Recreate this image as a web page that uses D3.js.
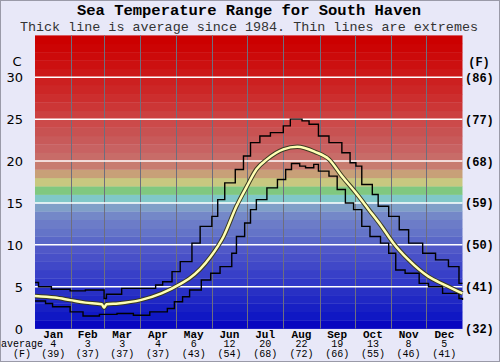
<!DOCTYPE html>
<html>
<head>
<meta charset="utf-8">
<script src="https://cdn.jsdelivr.net/npm/d3@7/dist/d3.min.js"></script>
<style>
  body { margin: 0; background: #e8e8f8; }
  svg { display: block; }
</style>
</head>
<body>
<div id="chart"></div>
<script>
const monthNames = ['Jan', 'Feb', 'Mar', 'Apr', 'May', 'Jun', 'Jul', 'Aug', 'Sep', 'Oct', 'Nov', 'Dec']
const monthDays = [31, 28, 31, 30, 31, 30, 31, 31, 30, 31, 30, 31]
const monthAvgC = [4, 3, 3, 4, 6, 12, 20, 22, 19, 13, 8, 5]
const monthAvgF = [39, 37, 37, 37, 43, 54, 68, 72, 66, 55, 46, 41]

const cTicks = [0, 5, 10, 15, 20, 25, 30]
const fTicks = [32, 41, 50, 59, 68, 77, 86]

// average since 1984 (day of year, deg C)
const avgDays = [0, 17, 30, 43, 57, 59, 61, 71, 90, 108, 125, 132, 150, 161, 172, 181, 189, 198, 212, 224, 239, 251, 262, 274, 285, 296, 306, 319, 336, 350, 365]
const avgTemp = [3.9, 3.7, 3.4, 3.1, 2.9, 2.5, 2.9, 3.0, 3.4, 4.2, 5.4, 6.0, 8.6, 11.0, 14.6, 17.0, 19.0, 20.2, 21.4, 21.7, 21.1, 20.2, 18.2, 16.2, 14.2, 12.2, 10.2, 8.2, 6.2, 5.2, 4.2]

// extremes
const maxDays = [0, 3, 14, 30, 43, 57, 59, 61, 74, 90, 103, 109, 117, 124, 134, 141, 151, 156, 162, 171, 178, 184, 192, 201, 212, 218, 228, 234, 242, 251, 262, 269, 274, 279, 288, 293, 302, 311, 319, 331, 342, 353, 362, 365]
const maxTemp = [5.5, 5.0, 4.7, 4.5, 4.6, 4.6, 3.6, 4.1, 4.8, 4.8, 5.2, 5.6, 6.8, 8.0, 10.2, 12.2, 13.4, 15.4, 17.4, 19.0, 20.6, 22.2, 23.0, 23.4, 24.2, 25.0, 24.8, 24.4, 23.0, 22.2, 21.0, 19.8, 19.4, 17.2, 16.0, 14.6, 13.4, 11.8, 10.2, 9.0, 8.2, 7.4, 5.4, 5.4]

const minDays = [0, 9, 15, 30, 41, 55, 70, 84, 98, 113, 119, 126, 132, 142, 150, 158, 168, 172, 179, 184, 189, 198, 207, 214, 219, 226, 231, 238, 242, 251, 258, 265, 272, 279, 286, 295, 302, 308, 316, 328, 336, 348, 362, 365]
const minTemp = [3.3, 3.0, 2.6, 2.0, 1.5, 1.7, 1.8, 1.6, 2.0, 2.4, 3.2, 3.8, 4.6, 5.8, 6.6, 7.4, 9.0, 11.0, 12.6, 14.2, 15.4, 16.8, 17.8, 19.0, 19.7, 19.4, 19.2, 19.6, 18.8, 18.2, 16.6, 15.0, 14.2, 12.2, 11.0, 10.2, 9.0, 7.0, 6.6, 5.4, 5.0, 4.2, 3.6, 3.4]

// one colour per degree band, 0..35 C
const bandColors = ['#0808c0', '#1018c4', '#1820c4', '#2028c4', '#2830c4', '#3038c8', '#3840c8', '#4048c8', '#4850c8', '#5058c8',
                    '#5a68c8', '#6474c8', '#6c7cc8', '#7488c8', '#80a0c8', '#80c8c8', '#80c880', '#c8c880', '#c8a078', '#c87c70',
                    '#c86c68', '#c86262', '#c85a5a', '#c85252', '#cc4a4a', '#cc4040', '#cc3636', '#cc2e2e', '#cc2626', '#cc2020',
                    '#cc1818', '#cc1010', '#cc0a0a', '#cc0404', '#cc0000']

const W = 500, H = 362
const plot = { left: 35, right: 462.5, top: 35.4, bottom: 328.6 }

const svg = d3.select('#chart').append('svg')
  .attr('width', W)
  .attr('height', H)

svg.append('rect')
  .attr('x', 0.5).attr('y', 0.5)
  .attr('width', W - 1).attr('height', H - 1)
  .attr('fill', '#e8e8f8')
  .attr('stroke', '#9a9aa8')

const x = d3.scaleLinear().domain([0, 365]).range([plot.left, plot.right])
const y = d3.scaleLinear().domain([0, 35]).range([plot.bottom, plot.top])

// background bands
svg.append('g').selectAll('rect')
  .data(bandColors).enter()
  .append('rect')
  .attr('x', plot.left)
  .attr('width', plot.right - plot.left)
  .attr('y', (d, i) => y(i + 1))
  .attr('height', (d, i) => y(i) - y(i + 1) + 0.3)
  .attr('fill', d => d)

// month boundaries
const monthStart = monthDays.map((d, i) => d3.sum(monthDays.slice(0, i)))
svg.append('g').selectAll('line')
  .data(monthStart.slice(1)).enter()
  .append('line')
  .attr('x1', d => Math.round(x(d)) + 0.5)
  .attr('x2', d => Math.round(x(d)) + 0.5)
  .attr('y1', plot.top)
  .attr('y2', plot.bottom)
  .attr('stroke', '#6e6e7e')
  .attr('stroke-width', 1)

// white grid lines
svg.append('g').selectAll('line')
  .data(cTicks.slice(1)).enter()
  .append('line')
  .attr('x1', plot.left)
  .attr('x2', plot.right)
  .attr('y1', d => y(d))
  .attr('y2', d => y(d))
  .attr('stroke', '#ffffff')
  .attr('stroke-width', 1.5)

const series = (days, temps) => days.map((d, i) => [d, temps[i]])

const stepLine = d3.line()
  .x(d => x(d[0]))
  .y(d => y(d[1]))
  .curve(d3.curveStepAfter)

const smoothLine = d3.line()
  .x(d => x(d[0]))
  .y(d => y(d[1]))
  .curve(d3.curveMonotoneX)

svg.append('path')
  .datum(series(maxDays, maxTemp))
  .attr('d', stepLine)
  .attr('fill', 'none')
  .attr('stroke', '#000')
  .attr('stroke-width', 1.4)

svg.append('path')
  .datum(series(minDays, minTemp))
  .attr('d', stepLine)
  .attr('fill', 'none')
  .attr('stroke', '#000')
  .attr('stroke-width', 1.4)

const avg = series(avgDays, avgTemp)
svg.append('path')
  .datum(avg)
  .attr('d', smoothLine)
  .attr('fill', 'none')
  .attr('stroke', '#3a3a20')
  .attr('stroke-width', 4.5)

svg.append('path')
  .datum(avg)
  .attr('d', smoothLine)
  .attr('fill', 'none')
  .attr('stroke', '#ffffb4')
  .attr('stroke-width', 2.5)

// titles
svg.append('text')
  .attr('x', 249).attr('y', 15)
  .attr('text-anchor', 'middle')
  .style('font', 'bold 15.5px "Liberation Mono", monospace')
  .attr('fill', '#000')
  .text('Sea Temperature Range for South Haven')

svg.append('text')
  .attr('x', 249).attr('y', 31)
  .attr('text-anchor', 'middle')
  .style('font', '13.4px "Liberation Mono", monospace')
  .attr('fill', '#333')
  .text('Thick line is average since 1984. Thin lines are extremes')

// left axis (C)
const leftAxis = svg.append('g')
leftAxis.selectAll('text')
  .data(cTicks).enter()
  .append('text')
  .attr('x', 23)
  .attr('y', d => y(d) + 5)
  .attr('text-anchor', 'end')
  .style('font', '13px "DejaVu Sans", sans-serif')
  .attr('fill', '#000')
  .text(d => d)
svg.append('text')
  .attr('x', 17).attr('y', 66)
  .attr('text-anchor', 'middle')
  .style('font', '13px "DejaVu Sans", sans-serif')
  .text('C')

// right axis (F)
svg.append('g').selectAll('text')
  .data(fTicks).enter()
  .append('text')
  .attr('x', 465)
  .attr('y', (d, i) => y(cTicks[i]) + 4.5)
  .style('font', 'bold 12px "Liberation Mono", monospace')
  .text(d => '(' + d + ')')
svg.append('text')
  .attr('x', 479).attr('y', 66)
  .attr('text-anchor', 'middle')
  .style('font', 'bold 12px "Liberation Mono", monospace')
  .text('(F)')

// month labels and averages
const monthMid = monthStart.map((d, i) => d + monthDays[i] / 2)
const bottom = svg.append('g')
bottom.selectAll('.month')
  .data(monthNames).enter()
  .append('text').classed('month', true)
  .attr('x', (d, i) => x(monthMid[i]))
  .attr('y', 337.5)
  .attr('text-anchor', 'middle')
  .style('font', 'bold 11px "Liberation Mono", monospace')
  .text(d => d)
bottom.selectAll('.avgc')
  .data(monthAvgC).enter()
  .append('text').classed('avgc', true)
  .attr('x', (d, i) => x(monthMid[i]))
  .attr('y', 347)
  .attr('text-anchor', 'middle')
  .style('font', '10px "Liberation Mono", monospace')
  .text(d => d)
bottom.selectAll('.avgf')
  .data(monthAvgF).enter()
  .append('text').classed('avgf', true)
  .attr('x', (d, i) => x(monthMid[i]))
  .attr('y', 356.5)
  .attr('text-anchor', 'middle')
  .style('font', '10px "Liberation Mono", monospace')
  .text(d => '(' + d + ')')
svg.append('text')
  .attr('x', 1).attr('y', 347)
  .style('font', '10px "Liberation Mono", monospace')
  .text('average')
svg.append('text')
  .attr('x', 22).attr('y', 356.5)
  .attr('text-anchor', 'middle')
  .style('font', '10px "Liberation Mono", monospace')
  .text('(F)')
</script>
</body>
</html>
